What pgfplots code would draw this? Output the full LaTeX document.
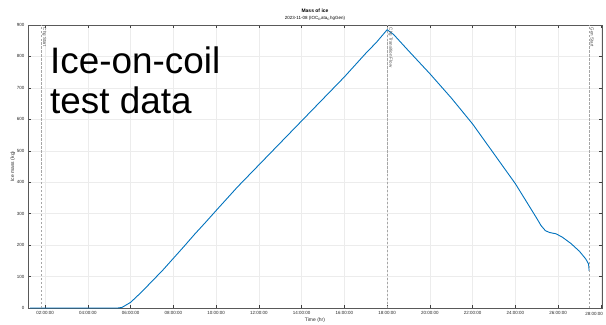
\documentclass[border=0pt]{standalone}
\usepackage{fontspec}
\setmainfont{Liberation Sans}
\usepackage{pgfplots}
\pgfplotsset{compat=1.18}
\definecolor{mblue}{rgb}{0,0.447,0.741}
\begin{document}
\begin{tikzpicture}
\begin{axis}[
  at={(0,0)}, anchor=south west,
  scale only axis, width=574bp, height=283bp,
  xmin=1.2, xmax=28.05, ymin=0, ymax=900,
  xtick={2,4,...,28},
  xticklabels={02:00:00,04:00:00,06:00:00,08:00:00,10:00:00,12:00:00,14:00:00,16:00:00,18:00:00,20:00:00,22:00:00,24:00:00,26:00:00,{}},
  ytick={0,100,...,900},
  grid=major, major grid style={gray!15, line width=0.4pt},
  axis line style={black!65, line width=0.5pt},
  tick style={black!75, line width=0.5pt},
  major tick length=3bp,
  tick label style={font=\fontsize{4.5}{5}\selectfont, text=black!85},
  /pgf/number format/assume math mode=true,
  xlabel={Time (hr)}, ylabel={Ice mass (kg)},
  label style={font=\fontsize{5}{6}\selectfont, text=black!85},
  xlabel style={yshift=4bp},
  ylabel style={yshift=-5bp},
  clip=false,
]
\addplot[mblue, line width=0.9pt] coordinates {
(1.3,0) (5.4,0) (5.6,2) (5.8,10) (6.0,18) (6.5,50) (7.0,85) (7.5,120) (8.0,158) (8.5,196) (9.0,235) (9.5,272) (10.0,310) (11.0,385) (12.0,455) (13.0,525) (14.0,595) (15.0,665) (16.0,735) (17.0,810) (17.5,845) (18.0,885)
(18.3,870) (19.0,818) (20.0,745) (21.0,668) (22.0,585) (23.0,490) (24.0,395) (24.5,340) (25.0,285) (25.2,262) (25.4,246) (25.6,240) (25.9,236) (26.2,225) (26.6,205) (27.0,180) (27.3,155) (27.42,140) (27.45,118)
};
\draw[black!35, dash pattern=on 2.5pt off 1.5pt, line width=0.5pt] (axis cs:1.81,0) -- (axis cs:1.81,900);
\draw[black!35, dash pattern=on 2.5pt off 1.5pt, line width=0.5pt] (axis cs:18.0,0) -- (axis cs:18.0,900);
\draw[black!35, dash pattern=on 2.5pt off 1.5pt, line width=0.5pt] (axis cs:27.46,0) -- (axis cs:27.46,900);
\node[rotate=-90, anchor=south west, inner sep=1pt, font=\fontsize{4.5}{5}\selectfont, text=black!70] at (axis cs:1.81,895) {Chg Start};
\node[rotate=-90, anchor=south west, inner sep=1pt, font=\fontsize{4.5}{5}\selectfont, text=black!70] at (axis cs:18.0,895) {Chg Transition Flow};
\node[rotate=-90, anchor=south west, inner sep=1pt, font=\fontsize{4.5}{5}\selectfont, text=black!70] at (axis cs:27.46,895) {Gen Start};
\node[anchor=north east, inner sep=0pt, font=\fontsize{4.5}{5}\selectfont, text=black!85] at ([yshift=-4.5bp]axis cs:28.1,0) {28:00:00};
\end{axis}
\node[anchor=south, inner sep=0pt, font=\bfseries\fontsize{5}{6}\selectfont] at (287bp,295bp) {Mass of ice};
\node[anchor=south, inner sep=0pt, font=\fontsize{4.5}{5}\selectfont] at (287bp,287bp) {2023-11-08 (IOC$_{\mathrm{D}}$ata$_{\mathrm{C}}$hgGen)};
\node[anchor=north west, align=left, inner sep=0pt, font=\fontsize{37}{40}\selectfont] at (22bp,261bp) {Ice-on-coil\\test data};
\pgfresetboundingbox
\path[use as bounding box] (-28bp,-17bp) rectangle (578bp,308bp);
\end{tikzpicture}
\end{document}
